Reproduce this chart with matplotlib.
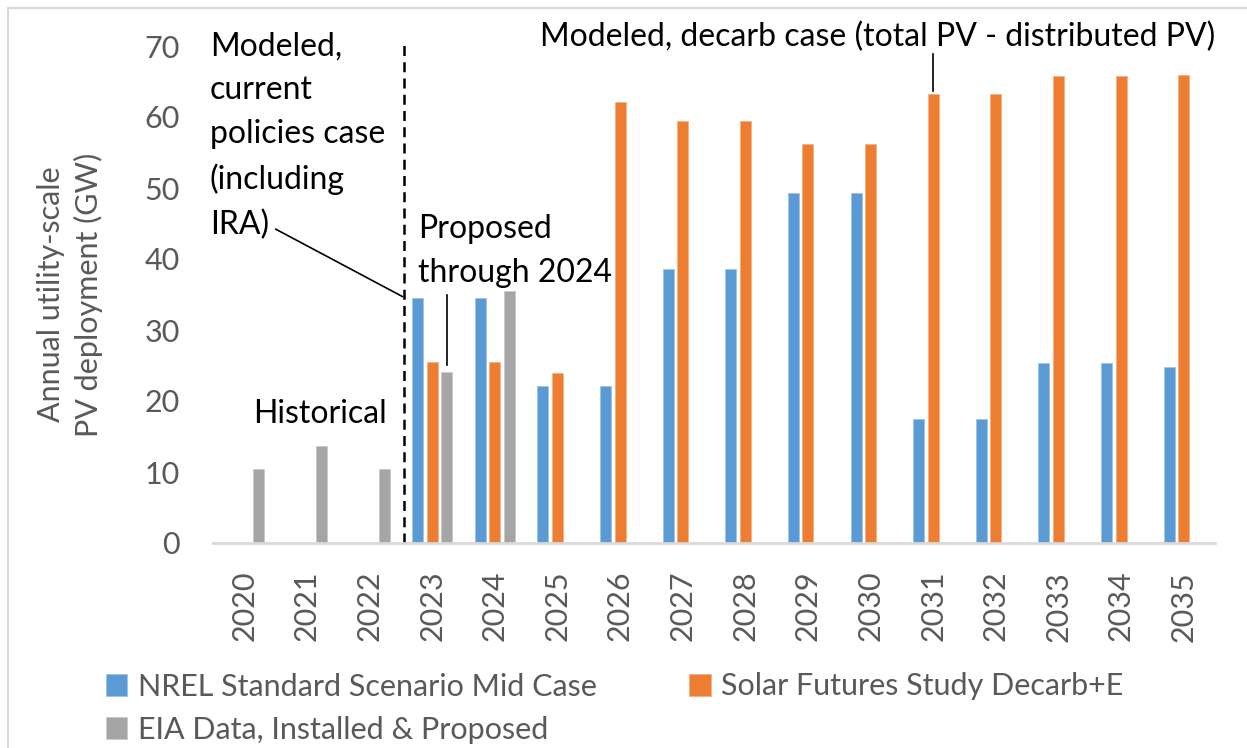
import numpy as np
import matplotlib.pyplot as plt
from matplotlib.patches import Rectangle

plt.rcParams['font.family'] = ['Lato', 'DejaVu Sans']

years = ['2020', '2021', '2022', '2023', '2024', '2025', '2026', '2027',
         '2028', '2029', '2030', '2031', '2032', '2033', '2034', '2035']
nrel_mid = [np.nan, np.nan, np.nan, 34.5, 34.5, 22.1, 22.1, 38.6,
            38.6, 49.3, 49.3, 17.5, 17.5, 25.4, 25.4, 24.8]
sfs_decarb = [np.nan, np.nan, np.nan, 25.5, 25.5, 24.0, 62.1, 59.5,
              59.5, 56.2, 56.2, 63.2, 63.2, 65.8, 65.8, 65.9]
eia_data = [10.4, 13.6, 10.4, 24.1, 35.5, np.nan, np.nan, np.nan,
            np.nan, np.nan, np.nan, np.nan, np.nan, np.nan, np.nan, np.nan]

BLUE = '#5B9BD5'
ORANGE = '#ED7D31'
GRAY = '#A5A5A5'
TXT = '#595959'

fig = plt.figure(figsize=(12.47, 7.48), dpi=100)
ax = fig.add_axes([213 / 1247, 1 - 543 / 748, 1002 / 1247, 497 / 748])

# chart border like excel
fig.patches.append(Rectangle((8 / 1247, -0.1), 1.2, 1 - 8 / 748 + 0.1,
                             transform=fig.transFigure, fill=False,
                             edgecolor='#d9d9d9', linewidth=1.5))

x = np.arange(len(years))
w = 0.176
off = 0.232
b1 = ax.bar(x - off, nrel_mid, w, color=BLUE, edgecolor='#9dc3e6', linewidth=0.6,
            label='NREL Standard Scenario Mid Case')
b2 = ax.bar(x, sfs_decarb, w, color=ORANGE, edgecolor='#f4b183', linewidth=0.6,
            label='Solar Futures Study Decarb+E')
b3 = ax.bar(x + off, eia_data, w, color=GRAY, edgecolor='#c9c9c9', linewidth=0.6,
            label='EIA Data, Installed & Proposed')

ax.set_xlim(-0.5, len(years) - 0.5)
ax.set_ylim(0, 70)
ax.set_yticks(range(0, 71, 10))
ax.set_xticks(x)
ax.set_xticklabels(years, rotation=90)
ax.tick_params(axis='both', length=0, labelsize=22, colors=TXT)
ax.tick_params(axis='y', pad=24)
ax.tick_params(axis='x', pad=20)
for s in ['top', 'right', 'left']:
    ax.spines[s].set_visible(False)
ax.spines['bottom'].set_color('#d9d9d9')
ax.spines['bottom'].set_linewidth(2)

ax.set_ylabel('Annual utility-scale\nPV deployment (GW)', fontsize=22, color=TXT,
              linespacing=1.35)
ax.yaxis.set_label_coords(-0.110, 0.5)

# divider between history and projections
ax.plot([2.55, 2.55], [0, 70.5], color='black', linestyle=(0, (4, 2.5)),
        linewidth=1.8, clip_on=False)

ax.text(-0.55, 72.0, 'Modeled,\ncurrent\npolicies case\n(including\nIRA)',
        fontsize=23, va='top', ha='left', linespacing=1.57)
ax.annotate('', xy=(2.57, 34.5), xytext=(0.46, 44.4),
            arrowprops=dict(arrowstyle='-', color='black', linewidth=1.2))

ax.text(2.77, 46.3, 'Proposed\nthrough 2024', fontsize=23, va='top', ha='left',
        linespacing=1.57)
ax.plot([3.24, 3.24], [35.0, 25.1], color='black', linewidth=1.2)

ax.text(0.14, 18.2, 'Historical', fontsize=23, va='center', ha='left')

ax.text(4.72, 71.3, 'Modeled, decarb case (total PV - distributed PV)', fontsize=23,
        va='center', ha='left', clip_on=False)
ax.plot([11, 11], [68.9, 63.6], color='black', linewidth=1.2, clip_on=False)

fig.legend([b1, b3, b2], [b1.get_label(), b3.get_label(), b2.get_label()],
           loc='upper left', bbox_to_anchor=(78 / 1247, 1 - 645 / 748), ncol=2,
           frameon=False, fontsize=22, labelcolor=TXT, handlelength=0.7,
           handleheight=0.7, handletextpad=0.35, columnspacing=3.04,
           labelspacing=0.5)

fig.savefig('out.png', dpi=100)
